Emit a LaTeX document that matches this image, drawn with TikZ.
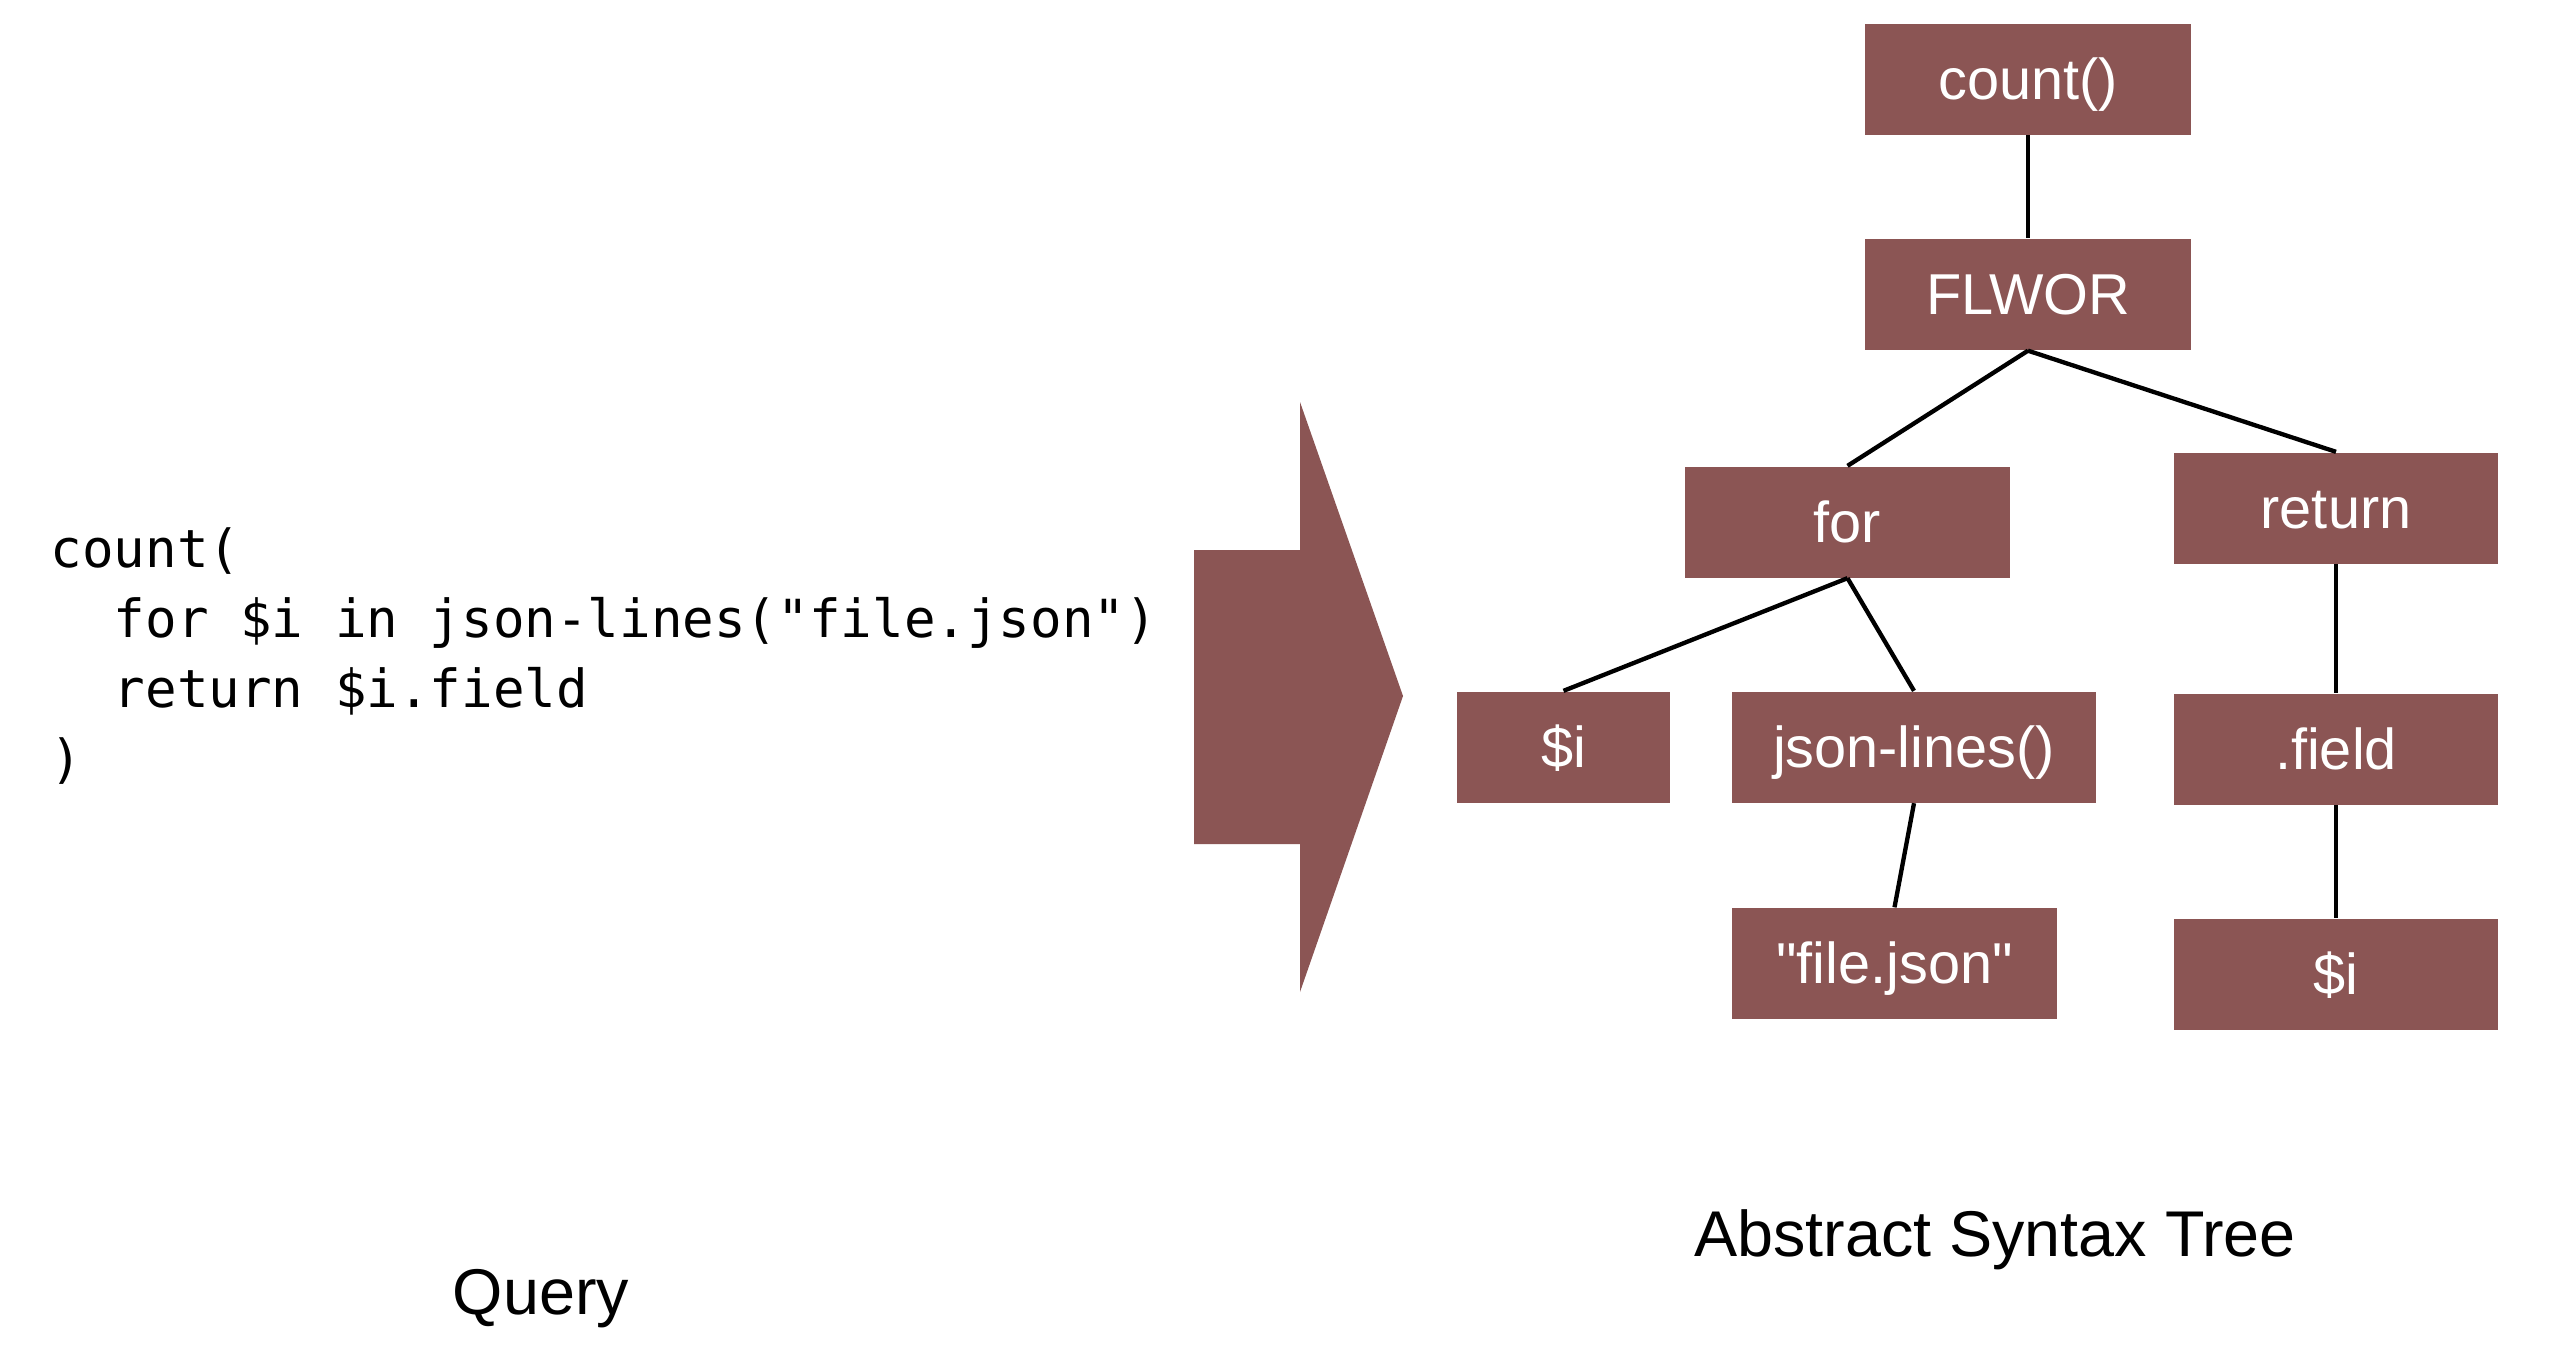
\documentclass[tikz,border=0pt]{standalone}
\usepackage{fontspec}
\setmainfont{Liberation Sans}[Ligatures=TeXOff]
\newfontfamily\codefont{DejaVu Sans Mono}[Ligatures=TeXOff]
\definecolor{boxred}{RGB}{139,85,84}
\begin{document}
\begin{tikzpicture}[x=0.3pt,y=-0.3pt,
  astbox/.style={fill=boxred, text=white, inner sep=0pt, minimum height=33.3pt,
    text height=14pt, text depth=1.8pt,
    font=\fontsize{17.3}{20}\selectfont},
  conn/.style={draw=black, line width=1.3pt},
  codeline/.style={anchor=base west, inner sep=0pt, font=\codefont\fontsize{15.75}{21}\selectfont},
  caption/.style={inner sep=0pt, font=\fontsize{19.4}{23}\selectfont}]
\useasboundingbox (0,0) rectangle (2550,1352);
\fill[white] (0,0) rectangle (2550,1352);

% code
\node[codeline] (c1) at (50,567) {count(};
\node[codeline] (c2) at (50,637) {\phantom{xx}for \$i in json-lines("file.json")};
\node[codeline] (c3) at (50,707) {\phantom{xx}return \$i.field};
\node[codeline] (c4) at (50,777) {)};

% arrow
\fill[boxred] (1194,550) -- (1300,550) -- (1300,402) -- (1403,696) -- (1300,992) -- (1300,844) -- (1194,844) -- cycle;

% tree
\node[astbox, minimum width=97.8pt] (count) at (2028,79) {count()};
\node[astbox, minimum width=97.8pt] (flwor) at (2028,294.5) {FLWOR};
\node[astbox, minimum width=97.5pt] (for) at (1847.5,522) {for};
\node[astbox, minimum width=97.2pt] (ret) at (2336,508) {return};
\node[astbox, minimum width=63.9pt] (i1) at (1563.5,747) {\$i};
\node[astbox, minimum width=109.2pt] (json) at (1914,747) {json-lines()};
\node[astbox, minimum width=97.2pt] (field) at (2336,749) {.field};
\node[astbox, minimum width=97.5pt] (file) at (1894.5,963.5) {"file.json"};
\node[astbox, minimum width=97.2pt] (i2) at (2336,974) {\$i};

\draw[conn] (count.south) -- (flwor.north);
\draw[conn] (flwor.south) -- (for.north);
\draw[conn] (flwor.south) -- (ret.north);
\draw[conn] (for.south) -- (i1.north);
\draw[conn] (for.south) -- (json.north);
\draw[conn] (json.south) -- (file.north);
\draw[conn] (ret.south) -- (field.north);
\draw[conn] (field.south) -- (i2.north);

% captions
\node[caption] (query) at (541,1299) {Query};
\node[caption] (ast) at (1995,1240) {Abstract Syntax Tree};
\end{tikzpicture}
\end{document}
